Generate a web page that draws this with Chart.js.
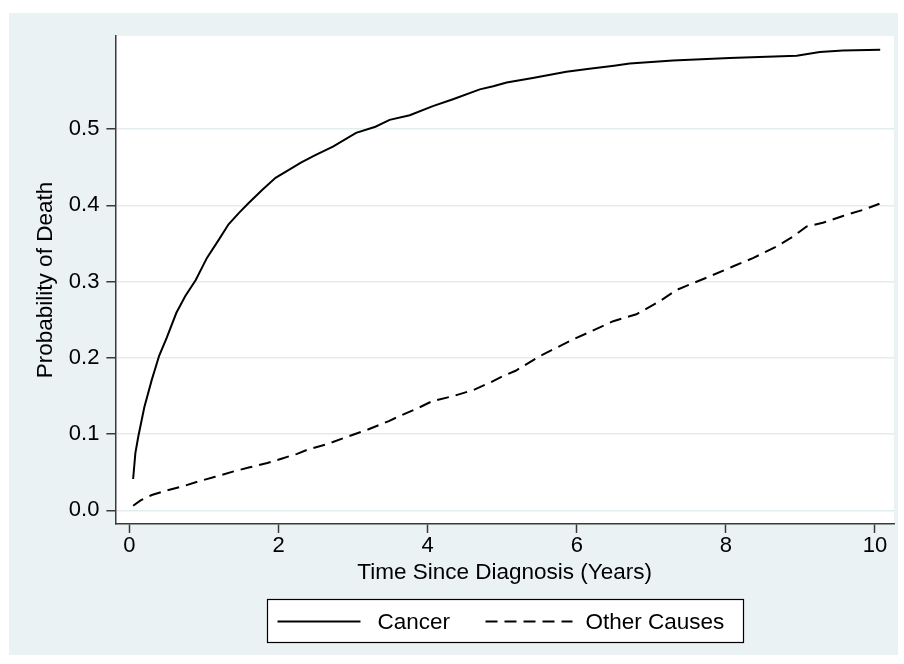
<!DOCTYPE html>
<html>
<head>
<meta charset="utf-8">
<script src="https://cdn.jsdelivr.net/npm/chart.js@4"></script>
<style>
  body { margin: 0; background: #fff; }
</style>
</head>
<body>
<canvas id="cif" width="904" height="664"></canvas>
<script>
const cancerTimes = [0.05, 0.08, 0.12, 0.2, 0.3, 0.4, 0.5, 0.63, 0.75, 0.89, 1.04, 1.2, 1.33, 1.47, 1.6, 1.78, 1.96, 2.15, 2.3, 2.5, 2.73, 3.04, 3.3, 3.49, 3.76, 4.07, 4.34, 4.7, 4.88, 5.06, 5.41, 5.86, 6.17, 6.5, 6.71, 7.29, 8.05, 8.95, 9.26, 9.57, 10.07]
const cancerProb = [0.041, 0.075, 0.097, 0.135, 0.171, 0.203, 0.226, 0.259, 0.281, 0.302, 0.331, 0.355, 0.375, 0.39, 0.403, 0.42, 0.436, 0.447, 0.456, 0.466, 0.477, 0.495, 0.503, 0.512, 0.518, 0.530, 0.539, 0.552, 0.556, 0.561, 0.567, 0.575, 0.579, 0.583, 0.586, 0.590, 0.593, 0.596, 0.601, 0.603, 0.604]

const otherTimes = [0.05, 0.15, 0.3, 0.5, 0.7, 0.9, 1.15, 1.4, 1.6, 1.85, 2.05, 2.25, 2.4, 2.63, 2.94, 3.2, 3.48, 3.61, 3.85, 4.06, 4.35, 4.62, 4.85, 5.01, 5.18, 5.5, 5.95, 6.2, 6.49, 6.8, 7.11, 7.34, 7.74, 8.1, 8.37, 8.68, 8.9, 9.08, 9.3, 9.57, 9.84, 10.06]
const otherProb = [0.006, 0.013, 0.020, 0.026, 0.031, 0.037, 0.044, 0.051, 0.056, 0.062, 0.068, 0.074, 0.080, 0.086, 0.097, 0.106, 0.117, 0.123, 0.133, 0.143, 0.150, 0.158, 0.168, 0.176, 0.183, 0.202, 0.224, 0.235, 0.248, 0.257, 0.274, 0.289, 0.305, 0.320, 0.331, 0.346, 0.359, 0.372, 0.377, 0.386, 0.394, 0.402]

const seriesNames = ['Cancer', 'Other Causes']
const xTicks = [0, 2, 4, 6, 8, 10]
const yTicks = [0, 0.1, 0.2, 0.3, 0.4, 0.5]

const toPoints = (xs, ys) => xs.map((x, i) => ({ x: x, y: ys[i] }))

const BG = '#eaf2f3'
const AXIS = '#3a3a3a'
const DASH = [12, 7]
const FONT = "'Liberation Sans', Arial, Helvetica, sans-serif"

Chart.defaults.font.family = FONT
Chart.defaults.color = '#000'

// light outer region with a white plot area on top
const backdrop = {
  id: 'backdrop',
  beforeDraw(chart) {
    const { ctx, chartArea: a } = chart
    ctx.save()
    ctx.fillStyle = '#fff'
    ctx.fillRect(0, 0, chart.width, chart.height)
    ctx.fillStyle = BG
    ctx.fillRect(9, 13, chart.width - 15, chart.height - 22)
    ctx.fillStyle = '#fff'
    ctx.fillRect(a.left, a.top, a.right - a.left, a.bottom - a.top)
    ctx.restore()
  }
}

// boxed legend under the x-axis title
const boxLegend = {
  id: 'boxLegend',
  afterDraw(chart) {
    const { ctx, chartArea: a } = chart
    const w = 476, h = 43
    const left = Math.round((a.left + a.right) / 2 - w / 2) + 0.5
    const top = 599.5
    const cy = top + h / 2 + 0.5
    ctx.save()
    ctx.fillStyle = '#fff'
    ctx.fillRect(left, top, w, h)
    ctx.strokeStyle = '#000'
    ctx.lineWidth = 1.2
    ctx.strokeRect(left, top, w, h)

    const slots = [[10, 93, 110], [218, 305, 318]]
    ctx.font = '22.5px ' + FONT
    ctx.textBaseline = 'middle'
    ctx.textAlign = 'left'
    chart.data.datasets.forEach((ds, i) => {
      const [x0, x1, tx] = slots[i]
      ctx.beginPath()
      ctx.setLineDash(ds.borderDash || [])
      ctx.strokeStyle = ds.borderColor
      ctx.lineWidth = ds.borderWidth
      ctx.moveTo(left + x0, cy)
      ctx.lineTo(left + x1, cy)
      ctx.stroke()
      ctx.setLineDash([])
      ctx.fillStyle = '#000'
      ctx.fillText(ds.label, left + tx, cy + 1)
    })
    ctx.restore()
  }
}

new Chart(document.getElementById('cif'), {
  type: 'line',
  data: {
    datasets: [
      {
        label: seriesNames[0],
        data: toPoints(cancerTimes, cancerProb),
        borderColor: '#000',
        borderWidth: 2,
        pointRadius: 0,
        tension: 0
      },
      {
        label: seriesNames[1],
        data: toPoints(otherTimes, otherProb),
        borderColor: '#000',
        borderWidth: 2,
        borderDash: DASH,
        pointRadius: 0,
        tension: 0
      }
    ]
  },
  options: {
    responsive: false,
    animation: false,
    layout: { padding: { left: 31.8, top: 36, right: 10, bottom: 77.8 } },
    plugins: {
      legend: { display: false },
      tooltip: { enabled: false }
    },
    scales: {
      x: {
        type: 'linear',
        min: -0.188,
        max: 10.255,
        afterBuildTicks: s => { s.ticks = xTicks.map(v => ({ value: v })) },
        ticks: {
          padding: 1,
          font: { size: 22, lineHeight: 1.1 },
          callback: v => String(v)
        },
        grid: {
          drawOnChartArea: false,
          tickLength: 9,
          tickColor: AXIS,
          tickWidth: 1.5
        },
        border: { color: AXIS, width: 1.5 },
        title: {
          display: true,
          text: 'Time Since Diagnosis (Years)',
          font: { size: 22.5, lineHeight: 1.2 },
          padding: { top: 0, bottom: 0 }
        }
      },
      y: {
        min: -0.018,
        max: 0.622,
        afterBuildTicks: s => { s.ticks = yTicks.map(v => ({ value: v })) },
        ticks: {
          padding: 7,
          font: { size: 22 },
          callback: v => Number(v).toFixed(1)
        },
        grid: {
          color: '#e3ecee',
          lineWidth: 1.5,
          tickLength: 9,
          tickColor: AXIS,
          tickWidth: 1.5
        },
        border: { color: AXIS, width: 1.5 },
        title: {
          display: true,
          text: 'Probability of Death',
          font: { size: 22.5, lineHeight: 1.2 },
          padding: { top: 0, bottom: 3 }
        }
      }
    }
  },
  plugins: [backdrop, boxLegend]
})
</script>
</body>
</html>
